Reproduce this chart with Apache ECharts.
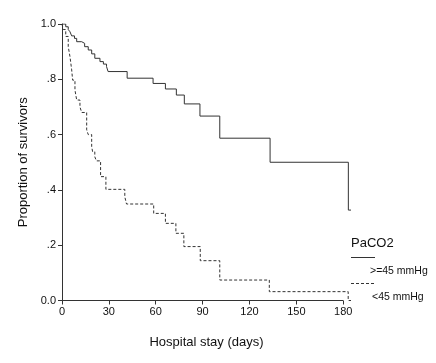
<!DOCTYPE html>
<html><head><meta charset="utf-8">
<script src="https://cdn.jsdelivr.net/npm/echarts@6/dist/echarts.min.js"></script>
<style>html,body{margin:0;padding:0;background:#fff}#c{width:436px;height:363px}</style>
</head><body><div id="c"></div>
<script>
// Kaplan-Meier survival estimates: [day, proportion surviving]
const highPaCO2 = [[0,1],[2.4,0.99],[4,0.98],[5.1,0.972],[6.2,0.957],[8,0.948],[9.4,0.936],[12.6,0.93],[14.5,0.918],[16.8,0.906],[19,0.892],[21,0.876],[24.3,0.864],[26.5,0.855],[28.5,0.846],[29.5,0.828],[41.7,0.804],[58.3,0.785],[66.2,0.765],[73.2,0.743],[78.3,0.711],[88.3,0.667],[101,0.587],[133.2,0.5],[183.3,0.327],[185,0.327]];
const lowPaCO2 = [[0,1],[0.8,0.98],[2.4,0.955],[4,0.918],[5.1,0.882],[6.2,0.834],[6.8,0.797],[8.3,0.761],[9.4,0.725],[11.5,0.70],[12.6,0.68],[15.8,0.617],[16.8,0.60],[19,0.556],[19.6,0.538],[21,0.52],[22,0.505],[24.7,0.448],[28.1,0.402],[40.2,0.375],[41.3,0.349],[58.7,0.315],[66.2,0.279],[72.9,0.243],[78,0.195],[88.5,0.144],[101,0.074],[132.7,0.032],[183.2,0],[185,0]];
const xTicks = [0,30,60,90,120,150,180];
const yTickLabels = {"0":"0.0","0.2":".2","0.4":".4","0.6":".6","0.8":".8","1":"1.0"};
const legendTitle = "PaCO2";
const seriesNames = [">=45 mmHg","<45 mmHg"];

const FONT = "'Liberation Sans', Arial, sans-serif";
const chart = echarts.init(document.getElementById('c'), null, {renderer:'canvas'});
chart.setOption({
  animation:false,
  backgroundColor:'#fff',
  grid:{left:62,right:85,top:24,bottom:62.5},
  xAxis:{type:'value',min:0,max:185,
    name:'Hospital stay (days)',nameLocation:'middle',nameGap:35,
    nameTextStyle:{fontFamily:FONT,fontSize:13,color:'#111'},
    axisLine:{show:false},
    axisTick:{show:true,length:4,customValues:xTicks,lineStyle:{color:'#333'}},
    axisLabel:{fontFamily:FONT,fontSize:11,color:'#111',margin:6,customValues:xTicks,formatter:v=>String(v)},
    splitLine:{show:false}},
  yAxis:{type:'value',min:0,max:1,interval:0.2,
    name:'Proportion of survivors',nameLocation:'middle',nameGap:28,nameRotate:90,
    nameTextStyle:{fontFamily:FONT,fontSize:13,color:'#111'},
    axisLine:{show:true,lineStyle:{color:'#333',width:1}},
    axisTick:{show:true,length:4,lineStyle:{color:'#333'}},
    axisLabel:{fontFamily:FONT,fontSize:11,color:'#111',margin:6,formatter:v=>yTickLabels[String(+v.toFixed(1))]||''},
    splitLine:{show:false}},
  series:[
    {name:seriesNames[0],type:'line',step:'end',data:highPaCO2,showSymbol:false,
      lineStyle:{color:'#333',width:1},
      markLine:{silent:true,symbol:'none',label:{show:false},lineStyle:{color:'#333',width:1,type:'solid'},
        data:[[{coord:[xTicks[0],0]},{coord:[xTicks[xTicks.length-1],0]}]]}},
    {name:seriesNames[1],type:'line',step:'end',data:lowPaCO2,showSymbol:false,
      lineStyle:{color:'#333',width:1,type:[3,2]}}
  ],
  graphic:[
    {type:'text',left:351,top:237,style:{text:legendTitle,font:'13px '+FONT,fill:'#111'}},
    {type:'line',shape:{x1:351,y1:257.5,x2:375,y2:257.5},style:{stroke:'#333',lineWidth:1}},
    {type:'text',left:370,top:266,style:{text:seriesNames[0],font:'10.5px '+FONT,fill:'#111'}},
    {type:'line',shape:{x1:351,y1:283.5,x2:375,y2:283.5},style:{stroke:'#333',lineWidth:1,lineDash:[3,2]}},
    {type:'text',left:372,top:292,style:{text:seriesNames[1],font:'10.5px '+FONT,fill:'#111'}}
  ]
});
</script></body></html>
